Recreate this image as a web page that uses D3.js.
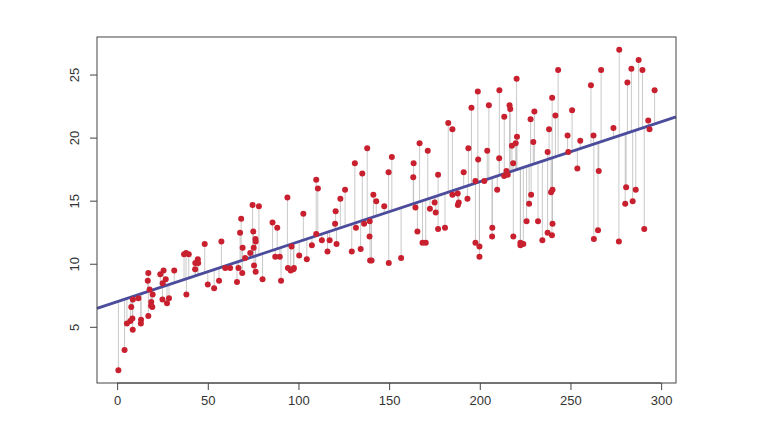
<!DOCTYPE html>
<html><head><meta charset="utf-8">
<script src="https://cdn.jsdelivr.net/npm/d3@7"></script>
<style>body{margin:0;background:#fff}</style></head>
<body><svg id="c" width="768" height="442"></svg>
<script>
const tv=[230.1,44.5,17.2,151.5,180.8,8.7,57.5,120.2,8.6,199.8,66.1,214.7,23.8,97.5,204.1,195.4,67.8,281.4,69.2,147.3,218.4,237.4,13.2,228.3,62.3,262.9,142.9,240.1,248.8,70.6,292.9,112.9,97.2,265.6,95.7,290.7,266.9,74.7,43.1,228,202.5,177,293.6,206.9,25.1,175.1,89.7,239.9,227.2,66.9,199.8,100.4,216.4,182.6,262.7,198.9,7.3,136.2,210.8,210.7,53.5,261.3,239.3,102.7,131.1,69,31.5,139.3,237.4,216.8,199.1,109.8,26.8,129.4,213.4,16.9,27.5,120.5,5.4,116,76.4,239.8,75.3,68.4,213.5,193.2,76.3,110.7,88.3,109.8,134.3,28.6,217.7,250.9,107.4,163.3,197.6,184.9,289.7,135.2,222.4,296.4,280.2,187.9,238.2,137.9,25,90.4,13.1,255.4,225.8,241.7,175.7,209.6,78.2,75.1,139.2,76.4,125.7,19.4,141.3,18.8,224,123.1,229.5,87.2,7.8,80.2,220.3,59.6,0.7,265.2,8.4,219.8,36.9,48.3,25.6,273.7,43,184.9,73.4,193.7,220.5,104.6,96.2,140.3,240.1,243.2,38,44.7,280.7,121,197.6,171.3,187.8,4.1,93.9,149.8,11.7,131.7,172.5,85.7,188.4,163.5,117.2,234.5,17.9,206.8,215.4,284.3,50,164.5,19.6,168.4,222.4,276.9,248.4,170.2,276.7,165.6,156.6,218.5,56.2,287.6,253.8,205,139.5,191.1,286,18.7,39.5,75.5,17.2,166.8,149.7,38.2,94.2,177,283.6,232.1];
const sales=[22.1,10.4,9.3,18.5,12.9,7.2,11.8,13.2,4.8,10.6,8.6,17.4,9.2,9.7,19,22.4,12.5,24.4,11.3,14.6,18,12.5,5.6,15.5,9.7,12,15,15.9,18.9,10.5,21.4,11.9,9.6,17.4,9.5,12.8,25.4,14.7,10.1,21.5,16.6,17.1,20.7,12.9,8.5,14.9,10.6,23.2,14.8,9.7,11.4,10.7,22.6,21.2,20.2,23.7,5.5,13.2,23.8,18.4,8.1,24.2,15.7,14,18,9.3,9.5,13.4,18.9,22.3,18.3,12.4,8.8,11,17,8.7,6.9,14.2,5.3,11,11.8,12.3,11.3,13.6,21.7,15.2,12,16,12.9,16.7,11.2,7.3,19.4,22.2,11.5,16.9,11.7,15.5,25.4,17.2,11.7,23.8,14.8,14.7,20.7,19.2,7.2,8.7,5.3,19.8,13.4,21.8,14.1,15.9,14.6,12.6,12.2,9.4,15.9,6.6,15.5,7,11.6,15.2,19.7,10.6,6.6,8.8,24.7,9.7,1.6,12.7,5.7,19.6,10.8,11.6,9.5,20.8,9.6,20.7,10.9,19.2,20.1,10.4,11.4,10.3,13.2,25.4,10.9,10.1,16.1,11.6,16.6,19,15.6,3.2,15.3,10.1,7.3,12.9,14.4,13.3,14.9,18,11.9,11.9,8,12.2,17.1,15,8.4,14.5,7.6,11.7,11.5,27,20.2,11.7,11.8,12.6,10.5,12.2,8.7,26.2,17.6,22.6,10.3,17.3,15.9,6.7,10.8,9.9,5.9,19.6,17.3,7.6,9.7,12.8,25.5,13.4];
const xTicks=[0,50,100,150,200,250,300];
const yTicks=[5,10,15,20,25];
const intercept=7.0326, slope=0.047537;
const n=Math.min(tv.length,sales.length);
const data=d3.range(n).map(i=>({x:tv[i],y:sales[i]}));
const svg=d3.select("#c");
const L=97,R=676,T=37,B=383;
const x=d3.scaleLinear().domain([-11.1,308.2]).range([L,R]);
const y=d3.scaleLinear().domain([0.584,28.016]).range([B,T]);
const g=svg.append("g");
g.selectAll(".s").data(data).enter().append("line")
 .attr("x1",d=>x(d.x)).attr("x2",d=>x(d.x))
 .attr("y1",d=>y(d.y)).attr("y2",d=>y(intercept+slope*d.x))
 .attr("stroke","#bbb").attr("stroke-width",0.8);
const xd=x.domain();
g.append("line").attr("x1",x(xd[0])).attr("x2",x(xd[1]))
 .attr("y1",y(intercept+slope*xd[0])).attr("y2",y(intercept+slope*xd[1]))
 .attr("stroke","#4b4c9c").attr("stroke-width",2.8);
g.selectAll(".p").data(data).enter().append("circle")
 .attr("cx",d=>x(d.x)).attr("cy",d=>y(d.y)).attr("r",3).attr("fill","#c9202f");
svg.append("rect").attr("x",L).attr("y",T).attr("width",R-L).attr("height",B-T)
 .attr("fill","none").attr("stroke","#444").attr("stroke-width",1);
const xa=svg.append("g").attr("transform",`translate(0,${B})`)
 .call(d3.axisBottom(x).tickValues(xTicks).tickSize(7).tickPadding(6));
const ya=svg.append("g").attr("transform",`translate(${L},0)`)
 .call(d3.axisLeft(y).tickValues(yTicks).tickSize(7).tickPadding(6));
[xa,ya].forEach(a=>{a.select(".domain").remove();
 a.selectAll("line").attr("stroke","#444");
 a.selectAll("text").attr("font-family","Liberation Sans, Arial").attr("font-size",13).attr("fill","#333");});
xa.select(".domain").remove();
svg.append("line").attr("x1",x(0)).attr("x2",x(300)).attr("y1",B).attr("y2",B).attr("stroke","#444");
ya.selectAll("text").attr("transform",function(){const t=d3.select(this);return null;})
 .each(function(d){d3.select(this).attr("text-anchor","middle").attr("x",0).attr("dy",0)
 .attr("transform",`translate(-18,${y(d)}) rotate(-90)`).attr("y",0);});
ya.selectAll(".tick").attr("transform",d=>`translate(0,0)`);
ya.selectAll(".tick line").attr("y1",d=>y(d)).attr("y2",d=>y(d));
</script></body></html>
